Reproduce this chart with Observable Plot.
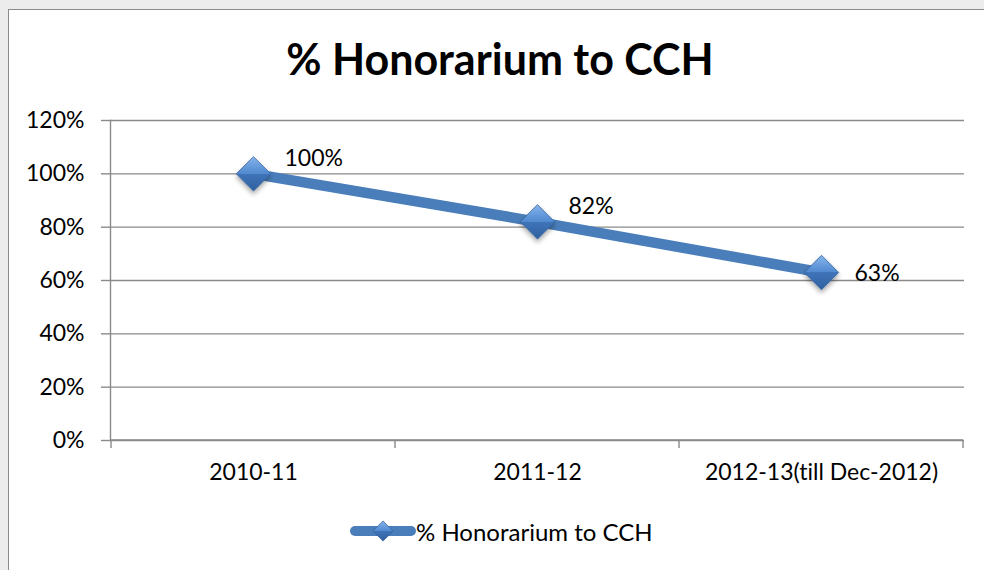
<!DOCTYPE html>
<html>
<head>
<meta charset="utf-8">
<script src="https://cdn.jsdelivr.net/npm/d3@7"></script>
<script src="https://cdn.jsdelivr.net/npm/@observablehq/plot@0.6"></script>
<style>
  html, body { margin: 0; padding: 0; width: 984px; height: 570px; overflow: hidden; background: #ececec; font-family: Lato, "Open Sans", sans-serif; font-variant-ligatures: none; }
  #frame { position: absolute; left: 8px; top: 9px; width: 1100px; height: 700px; background: #fff; border: 1.5px solid #8a8a8a; box-sizing: border-box; }
  #title { position: absolute; left: 0; width: 1000px; top: 33px; text-align: center; font: bold 43px Lato, sans-serif; color: #000; font-variant-ligatures: none; }
  #chart { position: absolute; left: 0; top: 0; }
  #chart svg { font-variant-ligatures: none; }
  #legend { position: absolute; left: 350px; top: 516px; display: flex; align-items: center; font: 24px Lato, sans-serif; color: #000; font-variant-ligatures: none; }
  #legend svg { display: block; }
</style>
</head>
<body>
<svg width="0" height="0" style="position:absolute">
  <defs>
    <linearGradient id="dg" x1="0" y1="0" x2="0" y2="1">
      <stop offset="0" stop-color="#86b4ec"/>
      <stop offset="0.5" stop-color="#5088cf"/>
      <stop offset="0.5" stop-color="#3f74b9"/>
      <stop offset="1" stop-color="#30609f"/>
    </linearGradient>
    <filter id="sh" x="-50%" y="-50%" width="200%" height="200%">
      <feDropShadow dx="0" dy="3" stdDeviation="2.5" flood-color="#000" flood-opacity="0.35"/>
    </filter>
  </defs>
</svg>
<div id="frame"></div>
<div id="title">% Honorarium to CCH</div>
<div id="chart"></div>
<div id="legend"></div>
<script>
const seriesName = "% Honorarium to CCH";
const categories = ["2010-11", "2011-12", "2012-13(till Dec-2012)"];
const values = [1.00, 0.82, 0.63];
const yTicks = [0, 0.2, 0.4, 0.6, 0.8, 1.0, 1.2];

const data = categories.map((c, i) => ({cat: c, v: values[i], i}));
const last = data.length - 1;
const pct = v => Math.round(v * 100) + "%";

const chart = Plot.plot({
  width: 984,
  height: 570,
  marginLeft: 110,
  marginRight: 20,
  marginTop: 120,
  marginBottom: 130,
  style: {fontFamily: "Lato, sans-serif", fontSize: "23px", color: "#000", background: "transparent"},
  x: {type: "band", domain: categories, padding: 0, label: null},
  y: {domain: [0, 1.2], label: null},
  marks: [
    Plot.gridY(yTicks, {stroke: "#8a8a8a", strokeOpacity: 1, strokeWidth: 1.4}),
    Plot.axisY(yTicks, {tickFormat: pct, tickSize: 9, tickPadding: 17, stroke: "#8a8a8a", strokeWidth: 1.4, fontSize: 23, fill: "#000"}),
    Plot.axisX({tickSize: 0, tickPadding: 23, fontSize: 23, fill: "#000"}),
    Plot.frame({anchor: "left", stroke: "#8a8a8a", strokeWidth: 1.4}),
    Plot.line(data, {x: "cat", y: "v", stroke: "#4a7ebb", strokeWidth: 10.5, strokeLinecap: "butt"}),
    Plot.dot(data, {x: "cat", y: "v", symbol: "diamond2", r: 15.5, fill: "url(#dg)", stroke: "#34649f", strokeWidth: 0.8}),
    Plot.text(data.filter(d => d.i < last), {x: "cat", y: "v", text: d => pct(d.v), textAnchor: "start", dx: 31, dy: -15, fontSize: 23, fill: "#000"}),
    Plot.text(data.filter(d => d.i === last), {x: "cat", y: "v", text: d => pct(d.v), textAnchor: "start", dx: 33, dy: 1, fontSize: 23, fill: "#000"})
  ]
});

// x-axis tick marks at the band boundaries, positioned from the band scale
const xs = chart.scale("x");
const ys = chart.scale("y");
const bounds = categories.map(c => xs.apply(c)).concat([xs.apply(categories[last]) + xs.bandwidth]);
const svg = d3.select(chart);
svg.append("g").selectAll("line").data(bounds).join("line")
  .attr("x1", d => d).attr("x2", d => d)
  .attr("y1", ys.apply(0)).attr("y2", ys.apply(0) + 8)
  .attr("stroke", "#8a8a8a").attr("stroke-width", 1.4);
svg.append("line")
  .attr("x1", bounds[0]).attr("x2", bounds[bounds.length - 1])
  .attr("y1", ys.apply(0)).attr("y2", ys.apply(0))
  .attr("stroke", "#8a8a8a").attr("stroke-width", 1.4);
svg.selectAll('g[aria-label="dot"] path').attr("filter", "url(#sh)");
// keep dots and labels on top of the added axis lines
svg.selectAll('g[aria-label="line"], g[aria-label="dot"], g[aria-label="text"]').raise();

document.getElementById("chart").appendChild(chart);

// legend below the plot
const leg = d3.select("#legend");
const ls = leg.append("svg").attr("width", 66).attr("height", 30);
ls.append("line").attr("x1", 5).attr("x2", 61).attr("y1", 15).attr("y2", 15)
  .attr("stroke", "#4a7ebb").attr("stroke-width", 10).attr("stroke-linecap", "round");
ls.append("path").attr("d", d3.symbol(d3.symbolDiamond2, 260)()).attr("transform", "translate(33,15)")
  .attr("fill", "url(#dg)").attr("stroke", "#34649f").attr("stroke-width", 0.8);
leg.append("span").text(seriesName);
</script>
</body>
</html>
